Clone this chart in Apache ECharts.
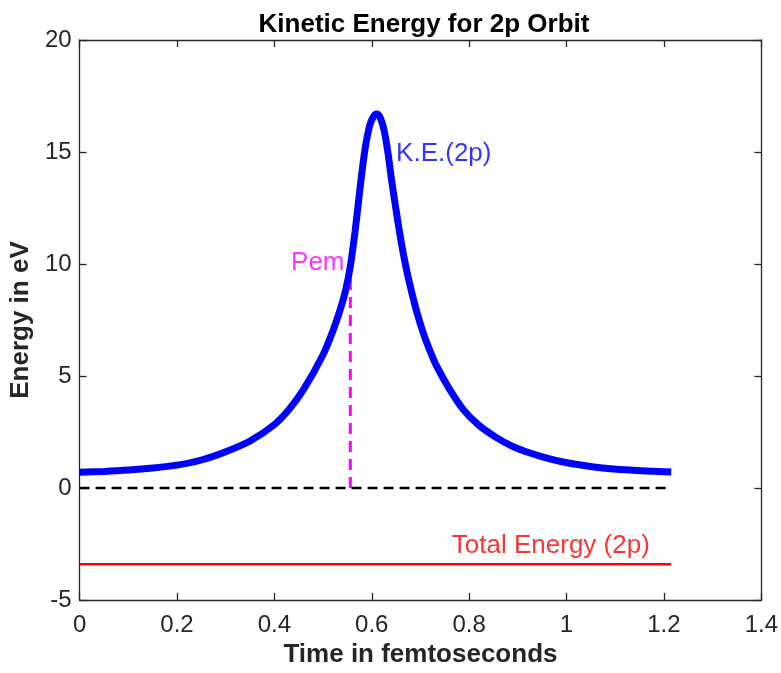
<!DOCTYPE html>
<html><head><meta charset="utf-8">
<script src="https://cdn.jsdelivr.net/npm/echarts@6/dist/echarts.min.js"></script>
<style>html,body{margin:0;padding:0;background:#fff}#c{width:781px;height:673px}</style>
</head><body><div id="c"></div>
<script>
// Data
const timeFs = [0, 0.05, 0.1, 0.15, 0.2, 0.25, 0.3, 0.35, 0.4, 0.43, 0.46, 0.5, 0.52, 0.535, 0.546, 0.556, 0.566, 0.576, 0.586, 0.596, 0.604, 0.61, 0.617, 0.625, 0.633, 0.641, 0.65, 0.658, 0.668, 0.678, 0.692, 0.706, 0.72, 0.733, 0.76, 0.788, 0.82, 0.856, 0.89, 0.925, 0.96, 0.993, 1.06, 1.13, 1.215];
const kineticEnergy = [0.70, 0.74, 0.80, 0.89, 1.02, 1.25, 1.62, 2.1, 2.83, 3.5, 4.4, 5.95, 7.0, 7.95, 8.8, 9.9, 11.5, 13.4, 15.1, 16.2, 16.6, 16.7, 16.55, 16.0, 15.0, 13.7, 12.4, 11.3, 10.1, 9.1, 7.9, 6.9, 6.1, 5.45, 4.4, 3.5, 2.8, 2.25, 1.85, 1.56, 1.33, 1.16, 0.93, 0.8, 0.71];
const lineTime = [0, 1.215];
const totalEnergy = [-3.4, -3.4];
const zeroEnergy = [0, 0];
const pemTime = [0.556, 0.556];
const pemEnergy = [0, 9.9];
const xTicks = [0, 0.2, 0.4, 0.6, 0.8, 1, 1.2, 1.4];
const yTicks = [-5, 0, 5, 10, 15, 20];
const labelTexts = ['K.E.(2p)', 'Pem', 'Total Energy (2p)'];
const labelAnchors = [[0.65, 14.9], [0.544, 10.05], [1.171, -2.6]];

const zip = (a, b) => a.map((v, i) => [v, b[i]]);
const FONT = "'Liberation Sans', Arial, Helvetica, sans-serif";
const AX = '#262626';

const chart = echarts.init(document.getElementById('c'), null, {renderer: 'canvas'});
const xBase = {
  type: 'value', min: xTicks[0], max: xTicks[xTicks.length - 1], interval: 0.2,
  splitLine: {show: false},
  axisLine: {show: true, onZero: false, lineStyle: {color: AX, width: 1.3}},
  axisTick: {show: true, inside: true, length: 7, lineStyle: {color: AX, width: 1.3}}
};
const yBase = {
  type: 'value', min: yTicks[0], max: yTicks[yTicks.length - 1], interval: 5,
  splitLine: {show: false},
  axisLine: {show: true, onZero: false, lineStyle: {color: AX, width: 1.3}},
  axisTick: {show: true, inside: true, length: 7, lineStyle: {color: AX, width: 1.3}}
};
const labelColors = ['#0000FF', '#FF00FF', '#FF0000'];
const labelPos = ['right', 'left', 'left'];

chart.setOption({
  animation: false,
  backgroundColor: '#ffffff',
  title: {
    text: 'Kinetic Energy for 2p Orbit', left: 419, top: 7, textAlign: 'center',
    textStyle: {fontFamily: FONT, fontWeight: 'bold', fontSize: 26, color: '#000'}
  },
  grid: {left: 75, right: 19, top: 40, bottom: 68, containLabel: false},
  xAxis: [
    Object.assign({}, xBase, {
      position: 'bottom', name: 'Time in femtoseconds', nameLocation: 'middle', nameGap: 42,
      nameTextStyle: {fontFamily: FONT, fontWeight: 'bold', fontSize: 26, color: AX},
      axisLabel: {fontFamily: FONT, fontSize: 24, color: AX, margin: 13}
    }),
    Object.assign({}, xBase, {position: 'top', axisLabel: {show: false}})
  ],
  yAxis: [
    Object.assign({}, yBase, {
      position: 'left', name: 'Energy in eV', nameLocation: 'middle', nameGap: 40,
      nameTextStyle: {fontFamily: FONT, fontWeight: 'bold', fontSize: 26, color: AX},
      axisLabel: {fontFamily: FONT, fontSize: 24, color: AX, margin: 8}
    }),
    Object.assign({}, yBase, {position: 'right', axisLabel: {show: false}})
  ],
  series: [
    {
      type: 'line', data: zip(pemTime, pemEnergy), showSymbol: false, z: 2,
      lineStyle: {color: '#FF00FF', width: 3, type: [11, 7]}
    },
    {
      type: 'line', data: zip(lineTime, zeroEnergy), showSymbol: false, z: 2,
      lineStyle: {color: '#000000', width: 2.5, type: [10, 6]}
    },
    {
      type: 'line', data: zip(lineTime, totalEnergy), showSymbol: false, z: 2,
      lineStyle: {color: '#FF0000', width: 2.5}
    },
    {
      type: 'line', data: zip(timeFs, kineticEnergy), showSymbol: false, z: 3,
      smooth: 0.3,
      lineStyle: {color: '#0000FF', width: 7, cap: 'butt'}
    },
    {
      type: 'scatter', symbolSize: 0, z: 4, silent: true,
      data: labelAnchors.map((p, i) => ({
        value: p,
        label: {
          show: true, formatter: labelTexts[i], position: labelPos[i], distance: 0,
          fontFamily: FONT, fontSize: 26, color: labelColors[i]
        }
      }))
    }
  ]
});
</script></body></html>
